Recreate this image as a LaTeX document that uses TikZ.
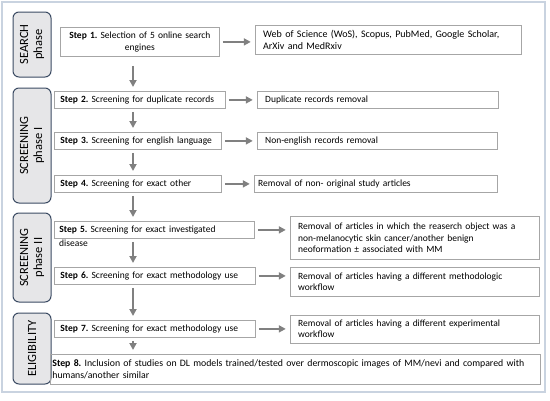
\documentclass[tikz,border=0pt]{standalone}
\usepackage{fontspec}
\setmainfont{Carlito}
\usetikzlibrary{positioning,arrows.meta}
\usepackage{xcolor}
\frenchspacing

\definecolor{framecol}{HTML}{C9D3E0}
\definecolor{phaseborder}{HTML}{3B4B63}
\definecolor{phasefill}{HTML}{E6E6E8}
\definecolor{boxborder}{HTML}{A6A6A6}
\definecolor{arrowgrey}{HTML}{808080}

\begin{document}
\begin{tikzpicture}[
    x=1pt, y=-1pt,
    node distance=34pt,
    phase/.style={rectangle, rounded corners=6pt, draw=phaseborder, fill=phasefill, line width=1pt, rotate=90, minimum height=38pt, inner sep=0pt, align=center, font=\fontsize{12.5}{14}\selectfont},
    stepbox/.style={rectangle, draw=boxborder, line width=0.8pt, inner xsep=6pt, inner ysep=0pt, minimum height=17pt, align=left, font=\fontsize{9.5}{11.5}\selectfont},
    outbox/.style={stepbox, inner xsep=8pt},
    plaintext/.style={inner xsep=6pt, inner ysep=0pt, font=\fontsize{9.5}{11.5}\selectfont},
    arrowline/.style={-{Triangle[length=7pt,width=7pt]}, line width=2.2pt, draw=arrowgrey, shorten <=3pt, shorten >=4pt}
]
\useasboundingbox (0,0) rectangle (550,400);

% Frame
\draw[framecol, line width=1.5pt] (2,2) rectangle (545,392);

% Phases
\node[phase, minimum width=65pt] (search) at (32,44.5) {SEARCH\\phase};
\node[phase, minimum width=115pt] (screen1) at (32,145.5) {SCREENING\\phase I};
\node[phase, minimum width=89pt] (screen2) at (32,257.5) {SCREENING\\phase II};
\node[phase, minimum width=71pt] (elig) at (32,348.5) {ELIGIBILITY};

% Steps
\node[stepbox, anchor=north west, text width=147pt, minimum height=29pt, align=center] (step1) at (60,27) {\textbf{Step 1.} Selection of 5 online search\\engines};
\node[stepbox, anchor=north west, text width=159pt] (step2) at (54,91) {\textbf{Step 2.} Screening for duplicate records};
\node[stepbox, anchor=north west, text width=155pt] (step3) at (54,132) {\textbf{Step 3.} Screening for english language};
\node[stepbox, anchor=north west, text width=155pt] (step4) at (54,175) {\textbf{Step 4.} Screening for exact other};
\node[stepbox, anchor=north west, inner xsep=5pt, text width=190pt] (step5) at (54,221) {\textbf{Step 5.} Screening for exact investigated};
\node[plaintext, inner xsep=5pt, anchor=west] (step5b) at ([yshift=-13.5pt]step5.west) {disease};
\node[stepbox, anchor=north west, text width=189pt] (step6) at (54,267) {\textbf{Step 6.} Screening for exact methodology use};
\node[stepbox, anchor=north west, text width=189pt] (step7) at (54,320) {\textbf{Step 7.} Screening for exact methodology use};
\node[stepbox, anchor=north west, inner xsep=2pt, text width=486pt, minimum height=30pt, font=\fontsize{9.8}{11.8}\selectfont] (step8) at (50,354) {\textbf{Step 8.} Inclusion of studies on DL models trained/tested over dermoscopic images of MM/nevi and compared with\\humans/another similar};

% Outcomes
\node[outbox, right=35pt of step1, yshift=2pt, text width=250pt, minimum height=29pt, font=\fontsize{10}{12}\selectfont] (engines) {Web of Science (WoS), Scopus, PubMed, Google Scholar,\\ArXiv and MedRxiv};
\node[outbox, right=31pt of step2, text width=225pt] (dupl) {Duplicate records removal};
\node[outbox, right=35pt of step3, text width=224pt] (noneng) {Non-english records removal};
\node[outbox, right=32pt of step4, inner xsep=4pt, text width=235pt] (nonorig) {Removal of non- original study articles};
\node[outbox, right=35pt of step5, yshift=-8pt, text width=233pt, minimum height=43pt] (disease) {Removal of articles in which the reaserch object was a\\non-melanocytic skin cancer/another benign\\neoformation \textpm{} associated with MM};
\node[outbox, right=34pt of step6, yshift=-6pt, text width=233pt, minimum height=29pt] (method) {Removal of articles having a different methodologic\\workflow};
\node[outbox, right=34pt of step7, text width=233pt, minimum height=28pt] (exper) {Removal of articles having a different experimental\\workflow};

% Arrows
\coordinate (ax) at (133,0);
\draw[arrowline, shorten <=9pt] (step1.south -| ax) -- (step2.north -| ax);
\draw[arrowline] (step2.south -| ax) -- (step3.north -| ax);
\draw[arrowline] (step3.south -| ax) -- (step4.north -| ax);
\draw[arrowline] (step4.south -| ax) -- (step5.north -| ax);
\draw[arrowline] (step5.south -| ax) -- (step6.north -| ax);
\draw[arrowline] (step6.south -| ax) -- (step7.north -| ax);
\draw[arrowline] (step7.south -| ax) -- (step8.north -| ax);

\draw[arrowline] (step1.east) -- (step1.east -| engines.west);
\draw[arrowline] (step2.east) -- (step2.east -| dupl.west);
\draw[arrowline] (step3.east) -- (step3.east -| noneng.west);
\draw[arrowline] (step4.east) -- (step4.east -| nonorig.west);
\draw[arrowline] (step5.east) -- (step5.east -| disease.west);
\draw[arrowline] (step6.east) -- (step6.east -| method.west);
\draw[arrowline] (step7.east) -- (step7.east -| exper.west);

\end{tikzpicture}
\end{document}
